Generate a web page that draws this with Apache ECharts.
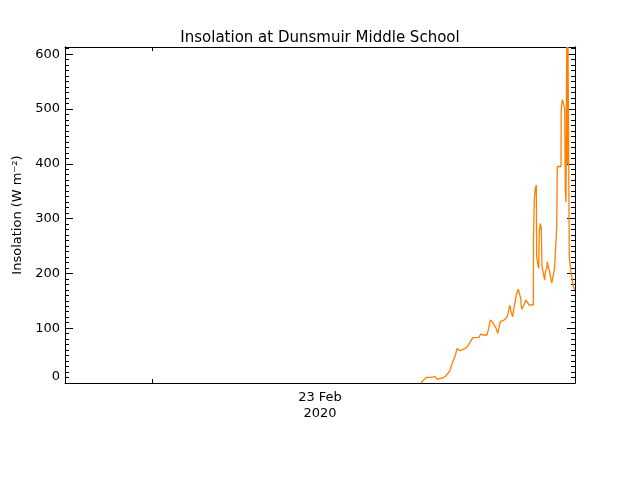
<!DOCTYPE html>
<html>
<head>
<meta charset="utf-8">
<script src="https://cdn.jsdelivr.net/npm/echarts@6/dist/echarts.min.js"></script>
<style>html,body{margin:0;padding:0;background:#fff;}#c{width:640px;height:480px;}</style>
</head>
<body>
<div id="c"></div>
<script>
// time in minutes from start of plotted window
var minutes = [356,357.3,359.3,361.7,366.7,367.7,370,372.3,374.3,378.3,380.7,382.7,384.3,386,387.3,389.3,390.7,392,393.7,395,396.7,399,401.7,403.3,405.3,407.7,414,415.7,418,420,422,423.3,425.3,427.7,429.3,431,432.7,434,435.3,437.3,439.3,441,442.3,443.7,445,446,447.7,448.7,450,451.3,453.3,454.3,455.7,456.7,458.3,459.3,460.7,462.7,464.3,468.3,468.5,469.3,470.3,471.3,471.7,472.7,473.7,474.3,475.3,476.3,477,478.7,479,479.7,480.3,481.7,482.3,483.3,484.3,485.3,486.7,488.3,489.3,490,491.3,491.7,492.3,496,496.2,497.3,499.3,499.7,500.3,501,501.7,502.3,503,503.7,504.3,505.7,506.7,507.7,509,510];
var insolation = [0,3.6,6.7,10.4,10.4,13.3,11.5,6.7,8.5,9.7,12.8,15.8,20.6,28.6,37,45,53,63,64.4,59,57.8,62,65,69,75,82.7,83.4,89,87.6,89,87.6,96.7,115,110.7,110,99.8,90.7,92.5,112,112,115,116.8,121,133,141.8,130,121,134,134,160.6,171,163.7,154.5,134,134,143.6,151.5,148.4,142.3,142.3,261,334,355,361,230,218,209,276,291,282,212,212,194,188,203,209,221,212,206,208.6,182,182,206,224,224,285,395,395,498,517,517,501,352,330,613,400,613,613,230,206,195,182,173,170];
var yMajorTicks = [0,100,200,300,400,500,600];
var xTickValues = [87];
var xLabelValues = [255];
var xLabelText = '23 Feb\n2020';
var titleText = 'Insolation at Dunsmuir Middle School';
var yName = 'Insolation (W m\u207B\u00B2)';

var yMinorTicks = [];
for (var v = 10; v <= 610; v += 10) { if (v % 100 !== 0) yMinorTicks.push(v); }
var data = minutes.map(function (m, i) { return [m, insolation[i]]; });

var font = 'DejaVu Sans';
var yMin = 0, yMax = 613, xMin = 0, xMax = 510;
function yAx(pos, ticks, len, labels, extra) {
  var a = {
    type: 'value', position: pos, min: yMin, max: yMax,
    axisLine: { show: true, lineStyle: { color: '#000', width: 1 } },
    axisTick: { show: true, inside: true, length: len, customValues: ticks, lineStyle: { color: '#000', width: 1 } },
    axisLabel: labels ? { show: true, customValues: yMajorTicks, color: '#000', fontFamily: font, fontSize: 13, margin: 5, verticalAlignMinLabel: 'bottom' } : { show: false },
    splitLine: { show: false }
  };
  if (extra) for (var k in extra) a[k] = extra[k];
  return a;
}
var chart = echarts.init(document.getElementById('c'));
chart.setOption({
  animation: false,
  backgroundColor: '#fff',
  title: { text: titleText, left: 'center', top: 26, textStyle: { fontFamily: font, fontSize: 15, fontWeight: 'normal', color: '#000' } },
  grid: { left: 65, right: 65, top: 47, bottom: 97, containLabel: false },
  xAxis: [
    { type: 'value', position: 'bottom', min: xMin, max: xMax,
      axisLine: { show: true, onZero: false, lineStyle: { color: '#000', width: 1 } },
      axisTick: { show: true, inside: true, length: 4, customValues: xTickValues, lineStyle: { color: '#000' } },
      axisLabel: { show: true, customValues: xLabelValues, formatter: function () { return xLabelText; }, color: '#000', fontFamily: font, fontSize: 13, lineHeight: 15.5, margin: 7 },
      splitLine: { show: false } },
    { type: 'value', position: 'top', min: xMin, max: xMax,
      axisLine: { show: true, onZero: false, lineStyle: { color: '#000', width: 1 } },
      axisTick: { show: true, inside: true, length: 4, customValues: xTickValues, lineStyle: { color: '#000' } },
      axisLabel: { show: false }, splitLine: { show: false } }
  ],
  yAxis: [
    yAx('left', yMajorTicks, 8, true, { name: yName, nameLocation: 'middle', nameGap: 40, nameRotate: 90, nameTextStyle: { fontFamily: font, fontSize: 13, color: '#000' } }),
    yAx('left', yMinorTicks, 4, false),
    yAx('right', yMajorTicks, 8, false),
    yAx('right', yMinorTicks, 4, false)
  ],
  series: [{
    type: 'line', data: data, xAxisIndex: 0, yAxisIndex: 0,
    showSymbol: false, symbol: 'none', clip: true,
    lineStyle: { color: '#ff8000', width: 1.3 }
  }]
});
</script>
</body>
</html>
